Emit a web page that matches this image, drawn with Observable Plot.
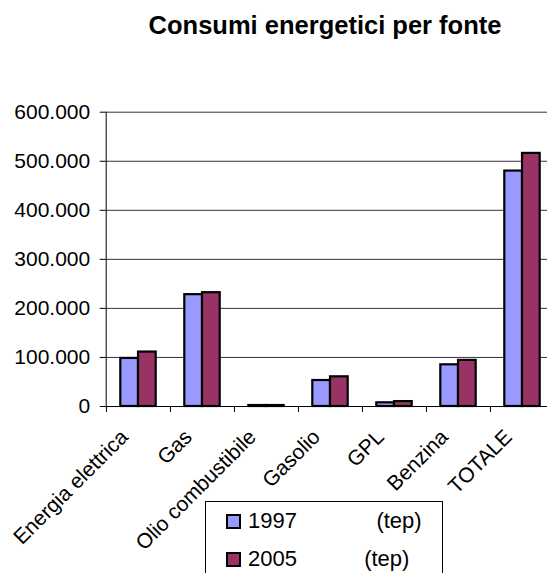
<!DOCTYPE html>
<html><head><meta charset="utf-8">
<script src="https://cdn.jsdelivr.net/npm/d3@7"></script>
<script src="https://cdn.jsdelivr.net/npm/@observablehq/plot@0.6"></script>
<style>
body{margin:0;background:#fff;}
#wrap{position:relative;width:547px;height:573px;overflow:hidden;font-family:"Liberation Sans",Arial,sans-serif;color:#000;}
#chart{position:absolute;left:0;top:0;width:554px;}
#chart svg{max-width:none !important;}
#title{position:absolute;left:0;width:650px;top:12.5px;line-height:25px;text-align:center;font-weight:bold;font-size:25.5px;}
#legend{position:absolute;left:205px;top:501px;width:236px;height:90px;border:1px solid #000;background:#fff;}
.sw{position:absolute;width:11px;height:11px;border:2px solid #000;}
.lt{position:absolute;font-size:22px;line-height:22px;white-space:pre;}
</style></head>
<body>
<div id="wrap">
  <div id="chart"></div>
  <div id="title"></div>
  <div id="legend"></div>
</div>
<script>
const title = "Consumi energetici per fonte";
const categories = ["Energia elettrica","Gas","Olio combustibile","Gasolio","GPL","Benzina","TOTALE"];
const series = ["1997","2005"];
const values1997 = [98000,228000,2000,53000,7500,85000,480000];
const values2005 = [111000,232000,2000,60500,10000,94000,516000];
const yTicks = [0,100000,200000,300000,400000,500000,600000];
const unit = "(tep)";
const colors = ["#9999FF","#993366"];

const fmt = d => d3.format(",")(d).replace(/,/g, ".");
const W = 554, ML = 105.7, MR = 0;
const bw = (W - ML - MR) / categories.length;
const gap = 14.3;

const rows1997 = categories.map((c,i)=>({cat:c, v:values1997[i]}));
const rows2005 = categories.map((c,i)=>({cat:c, v:values2005[i]}));

const plot = Plot.plot({
  width: W, height: 573,
  marginLeft: ML, marginRight: MR, marginTop: 111.7, marginBottom: 167,
  style: {fontFamily: "Liberation Sans, Arial, sans-serif", fontSize: "21px", color: "#000", background: "transparent", maxWidth: "none"},
  x: {domain: categories, padding: 0, label: null},
  y: {domain: [0, 600000], label: null},
  marks: [
    Plot.gridY(yTicks, {stroke: "#333", strokeOpacity: 1, strokeWidth: 1}),
    Plot.axisY(yTicks, {tickSize: 6, tickPadding: 10, tickFormat: fmt, fontSize: 21, stroke: "#000"}),
    Plot.frame({anchor: "left", stroke: "#000"}),
    Plot.barY(rows1997, {x: "cat", y: "v", fill: colors[0], stroke: "#000", strokeWidth: 2.2, insetLeft: gap, insetRight: bw/2}),
    Plot.barY(rows2005, {x: "cat", y: "v", fill: colors[1], stroke: "#000", strokeWidth: 2.2, insetLeft: bw/2, insetRight: gap}),
    Plot.ruleY([0], {stroke: "#000"}),
    Plot.axisX({tickSize: 6, tickFormat: () => "", dx: -bw/2, stroke: "#000"}),
    Plot.axisX({tickSize: 0, tickPadding: 27, tickRotate: -45, dx: -14, fontSize: 21})
  ]
});
plot.style.maxWidth = "none";
document.getElementById("chart").appendChild(plot);
document.getElementById("title").textContent = title;

const legend = document.getElementById("legend");
const rowTops = [509.2 - 501, 547.2 - 501];
const swTops = [512.7 - 501, 551 - 501];
const spaces = [13, 11];
series.forEach((s, i) => {
  const sw = document.createElement("div");
  sw.className = "sw";
  sw.style.left = (225 - 205) + "px";
  sw.style.top = swTops[i] + "px";
  sw.style.background = colors[i];
  legend.appendChild(sw);
  const t = document.createElement("div");
  t.className = "lt";
  t.style.left = (247 - 205) + "px";
  t.style.top = rowTops[i] + "px";
  t.textContent = s + " ".repeat(spaces[i]) + unit;
  legend.appendChild(t);
});
</script>
</body></html>
